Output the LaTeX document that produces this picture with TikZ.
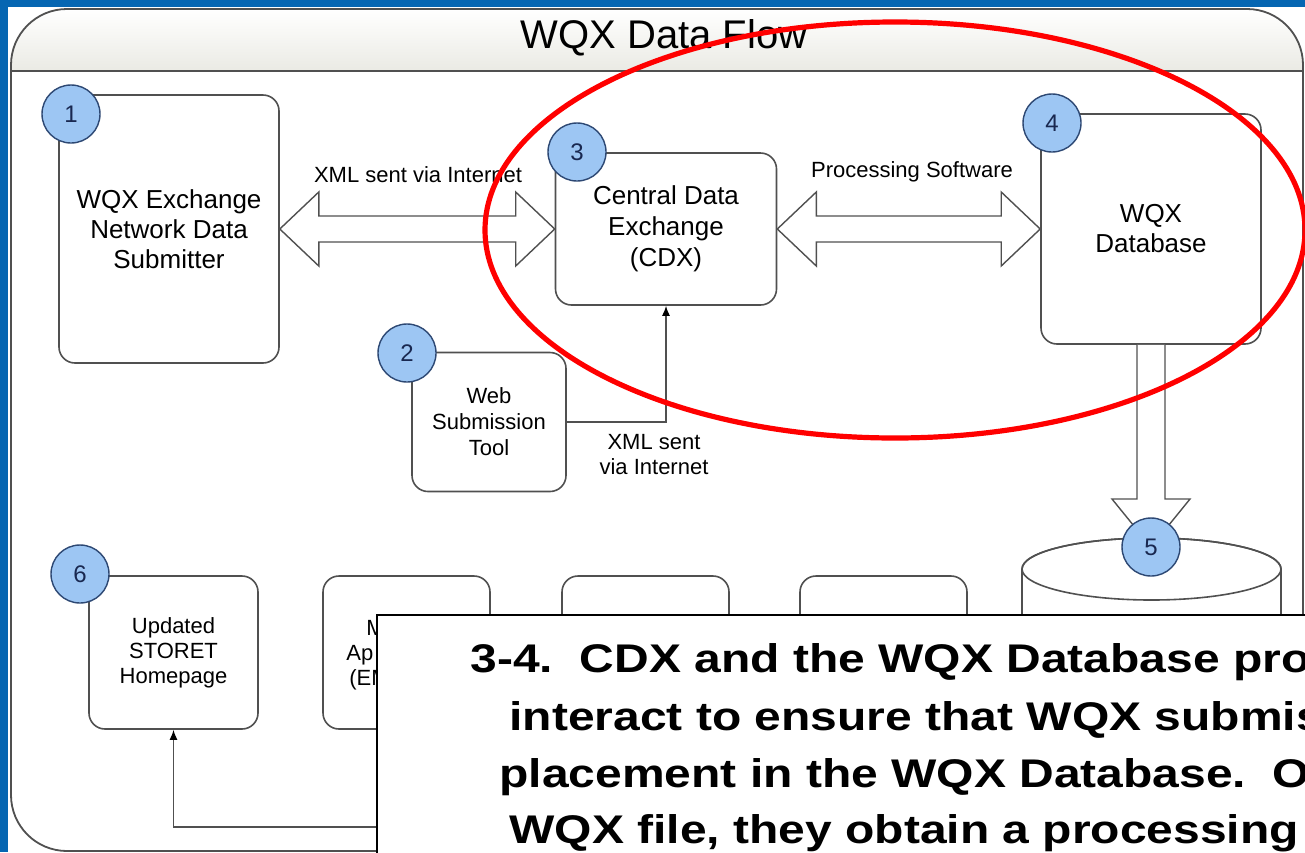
\documentclass[tikz,border=0pt]{standalone}
\usepackage{fontspec}
\setmainfont{Liberation Sans}
\newfontfamily\notefont[FakeStretch=1.2]{Liberation Sans}
\usetikzlibrary{calc,arrows.meta}
\definecolor{slideblue}{RGB}{6,102,178}
\definecolor{badgefill}{RGB}{157,198,243}
\definecolor{badgeedge}{RGB}{45,72,115}
\definecolor{badgetext}{RGB}{25,40,80}
\definecolor{boxline}{RGB}{80,80,80}
\definecolor{bandgray}{RGB}{234,234,228}
\tikzset{
  stepbox/.style={draw=boxline,line width=0.8pt,rounded corners=8pt,fill=white,
    align=center,inner sep=0pt},
  badge/.style={circle,draw=badgeedge,line width=0.7pt,fill=badgefill,text=badgetext,
    minimum size=29pt,inner sep=0pt,font=\fontsize{12}{14}\selectfont},
  fatarrow/.style={draw=boxline,line width=0.7pt,fill=white,line join=miter},
  link/.style={draw=boxline,line width=0.7pt,-{Latex[length=5pt,width=4pt,color=black]}},
  note/.style={font=\fontsize{11}{12.5}\selectfont,inner sep=0pt,align=center},
}
\begin{document}
\begin{tikzpicture}[x=0.5pt,y=-0.5pt]
  \useasboundingbox (0,0) rectangle (1305,852);
  \clip (0,0) rectangle (1305,852);
  \fill[white] (0,0) rectangle (1305,852);
  \fill[slideblue] (0,0) rectangle (1305,7);
  \fill[slideblue] (0,0) rectangle (8,852);

  % panel and title band
  \begin{scope}
    \clip[rounded corners=28pt] (11,9) rectangle (1303,851);
    \fill[top color=white,bottom color=bandgray] (0,9) rectangle (1305,71);
  \end{scope}
  \draw[boxline,line width=0.9pt,rounded corners=28pt] (11,9) rectangle (1303,851);
  \draw[boxline,line width=0.9pt] (11,71) -- (1303,71);
  \node[font=\fontsize{20}{24}\selectfont] (title) at (664,38) {WQX Data Flow};

  % boxes
  \node[stepbox,minimum width=110pt,minimum height=134pt,font=\fontsize{13}{15}\selectfont]
    (sub) at (169,229) {WQX Exchange\\Network Data\\Submitter};
  \node[stepbox,minimum width=110.5pt,minimum height=76pt,font=\fontsize{13}{15.5}\selectfont]
    (cdx) at (666,229) {Central Data\\Exchange\\(CDX)};
  \node[stepbox,minimum width=110pt,minimum height=115pt,font=\fontsize{13}{15}\selectfont]
    (db) at (1151,229) {WQX\\Database};
  \node[stepbox,minimum width=77pt,minimum height=69.5pt,font=\fontsize{11}{13}\selectfont]
    (web) at (489,422) {Web\\Submission\\Tool};
  \node[stepbox,minimum width=84.5pt,minimum height=76.5pt,font=\fontsize{11}{12.5}\selectfont]
    (upd) at (173.5,652.5) {Updated\\STORET\\Homepage};
  \node[stepbox,minimum width=83.5pt,minimum height=76.5pt] (ema) at (406.5,652.5) {};
  \node[stepbox,minimum width=83.5pt,minimum height=76.5pt] (boxc) at (645.5,652.5) {};
  \node[stepbox,minimum width=83.5pt,minimum height=76.5pt] (boxd) at (883.5,652.5) {};
  \node[note,anchor=base west] (ema1) at (366,635) {M};
  \node[note,anchor=base west] (ema2) at (346,660) {Ap};
  \node[note,anchor=base west] (ema3) at (349,685) {(EM};

  % storage
  \coordinate (stor) at (1151.5,569);
  \draw[boxline,line width=0.8pt,fill=white] (1022,900) -- (1022,569)
    arc[start angle=180,end angle=0,x radius=64.75pt,y radius=15.5pt] -- (1281,900);
  \draw[boxline,line width=0.8pt] (stor) ellipse [x radius=64.75pt,y radius=15.5pt];

  % wide arrows
  \draw[fatarrow] (sub.east) -- ++(39,-37) -- ++(0,24) -- ($(cdx.west)+(-39,-13)$)
    -- ++(0,-24) -- (cdx.west) -- ++(-39,37) -- ++(0,-24) -- ($(sub.east)+(39,13)$)
    -- ++(0,24) -- cycle;
  \draw[fatarrow] (cdx.east) -- ++(39,-37) -- ++(0,24) -- ($(db.west)+(-39,-13)$)
    -- ++(0,-24) -- (db.west) -- ++(-39,37) -- ++(0,-24) -- ($(cdx.east)+(39,13)$)
    -- ++(0,24) -- cycle;
  \coordinate (b5c) at (1151,547);
  \draw[fatarrow] ($(db.south)+(-14,0)$) -- ($(b5c)+(-14,-48)$) -- ++(-25,0) -- (b5c)
    -- ($(b5c)+(39,-48)$) -- ++(-25,0) -- ($(db.south)+(14,0)$);

  % thin connectors
  \draw[link] (web.east) -| (cdx.south);
  \coordinate (feed) at (440,827);
  \draw[link] (feed) -| (upd.south);

  % labels
  \node[note] (l1) at (418,175) {XML sent via Internet};
  \node[note] (l2) at (912,172) {Processing Software};
  \node[note] (l3) at (654,455) {XML sent\\via Internet};

  % badges
  \node[badge] (b1) at (71,114) {1};
  \node[badge] (b2) at (407,353) {2};
  \node[badge] (b3) at (577,152) {3};
  \node[badge] (b4) at (1052,123) {4};
  \node[badge] (b5) at (b5c) {5};
  \node[badge] (b6) at (80,574) {6};

  % highlight
  \draw[red,line width=2.6pt] (895,230) ellipse [x radius=205pt,y radius=104pt];

  % caption box
  \draw[black,line width=1.1pt,fill=white] (377,615) rectangle (1340,890);
  \begin{scope}[every node/.style={anchor=base west,inner sep=0pt,
      font=\notefont\bfseries\fontsize{20}{24}\selectfont}]
    \node (c1) at (470,672) {3-4.\ \ CDX and the WQX Database pro};
    \node (c2) at (509,730) {interact to ensure that WQX submis};
    \node (c3) at (499,787) {placement in the WQX Database.\ \ O};
    \node (c4) at (509,843) {WQX file, they obtain a processing};
  \end{scope}
\end{tikzpicture}
\end{document}
